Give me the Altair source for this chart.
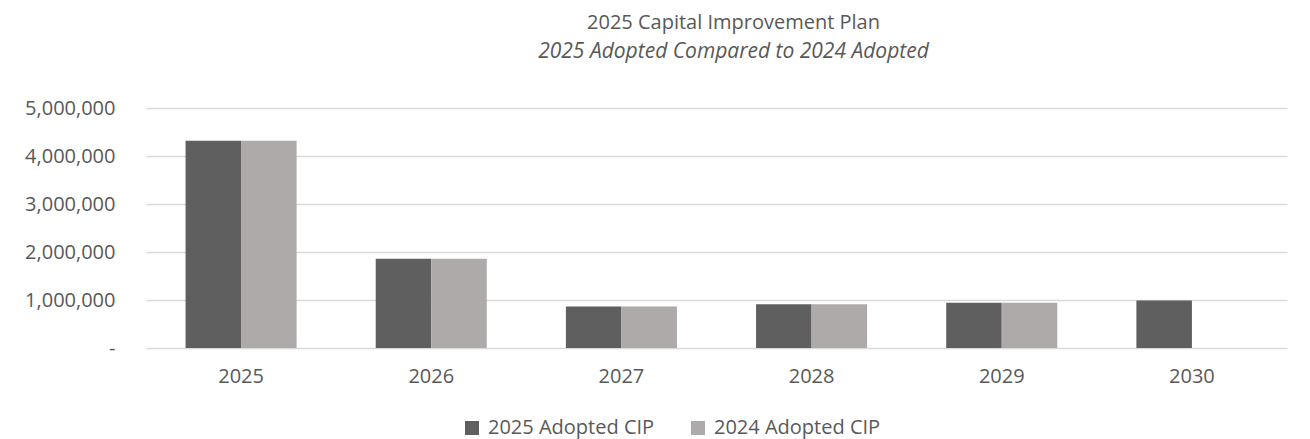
import altair as alt
import pandas as pd

years = ["2025", "2026", "2027", "2028", "2029", "2030"]
adopted_2025 = [4320000, 1860000, 867000, 910000, 944000, 990000]
adopted_2024 = [4320000, 1860000, 867000, 910000, 944000, None]
series_names = ["2025 Adopted CIP", "2024 Adopted CIP"]
series_colors = ["#5f5f5f", "#aeaaaa"]

rows = []
for i, y in enumerate(years):
    rows.append({"year": y, "series": series_names[0], "value": adopted_2025[i]})
    if adopted_2024[i] is not None:
        rows.append({"year": y, "series": series_names[1], "value": adopted_2024[i]})
df = pd.DataFrame(rows)

FONT = "Open Sans"
TXT = "#595959"

chart = alt.Chart(df).mark_bar().encode(
    x=alt.X("year:N", sort=years, title=None,
            scale=alt.Scale(paddingInner=0.416, paddingOuter=0.208),
            axis=alt.Axis(labelAngle=0, ticks=False, domain=False, labelPadding=18,
                          labelFontSize=20, labelColor=TXT, labelFont=FONT)),
    xOffset=alt.XOffset("series:N", sort=series_names),
    y=alt.Y("value:Q", title=None,
            scale=alt.Scale(domain=[0, 5000000], nice=False),
            axis=alt.Axis(values=[0, 1000000, 2000000, 3000000, 4000000, 5000000],
                          labelExpr="datum.value == 0 ? '-' : format(datum.value, ',')",
                          ticks=False, domain=False, labelPadding=31,
                          labelFontSize=20, labelColor=TXT, labelFont=FONT,
                          gridColor="#d9d9d9", gridWidth=1.3)),
    color=alt.Color("series:N", sort=series_names,
                    scale=alt.Scale(domain=series_names, range=series_colors),
                    legend=alt.Legend(title=None, orient="none", direction="horizontal",
                                      legendX=316, legendY=310,
                                      symbolType="square", symbolSize=196,
                                      symbolStrokeWidth=0, columnPadding=33,
                                      labelOffset=6, labelLimit=400,
                                      labelFontSize=20, labelColor=TXT, labelFont=FONT)),
).properties(
    width=1141,
    height=240,
    autosize=alt.AutoSizeParams(type="none"),
    padding={"left": 138, "top": 100, "right": 15, "bottom": 91},
    title=alt.TitleParams(
        text="2025 Capital Improvement Plan",
        subtitle="2025 Adopted Compared to 2024 Adopted",
        anchor="middle", frame="group", dx=17, offset=36,
        font=FONT, fontSize=20, fontWeight="normal", color=TXT,
        subtitleFont=FONT, subtitleFontSize=21, subtitleFontStyle="italic",
        subtitleColor=TXT, subtitlePadding=8,
    ),
).configure_view(stroke=None)

chart.save("out.html", embed_options={"renderer": "svg", "actions": False})
